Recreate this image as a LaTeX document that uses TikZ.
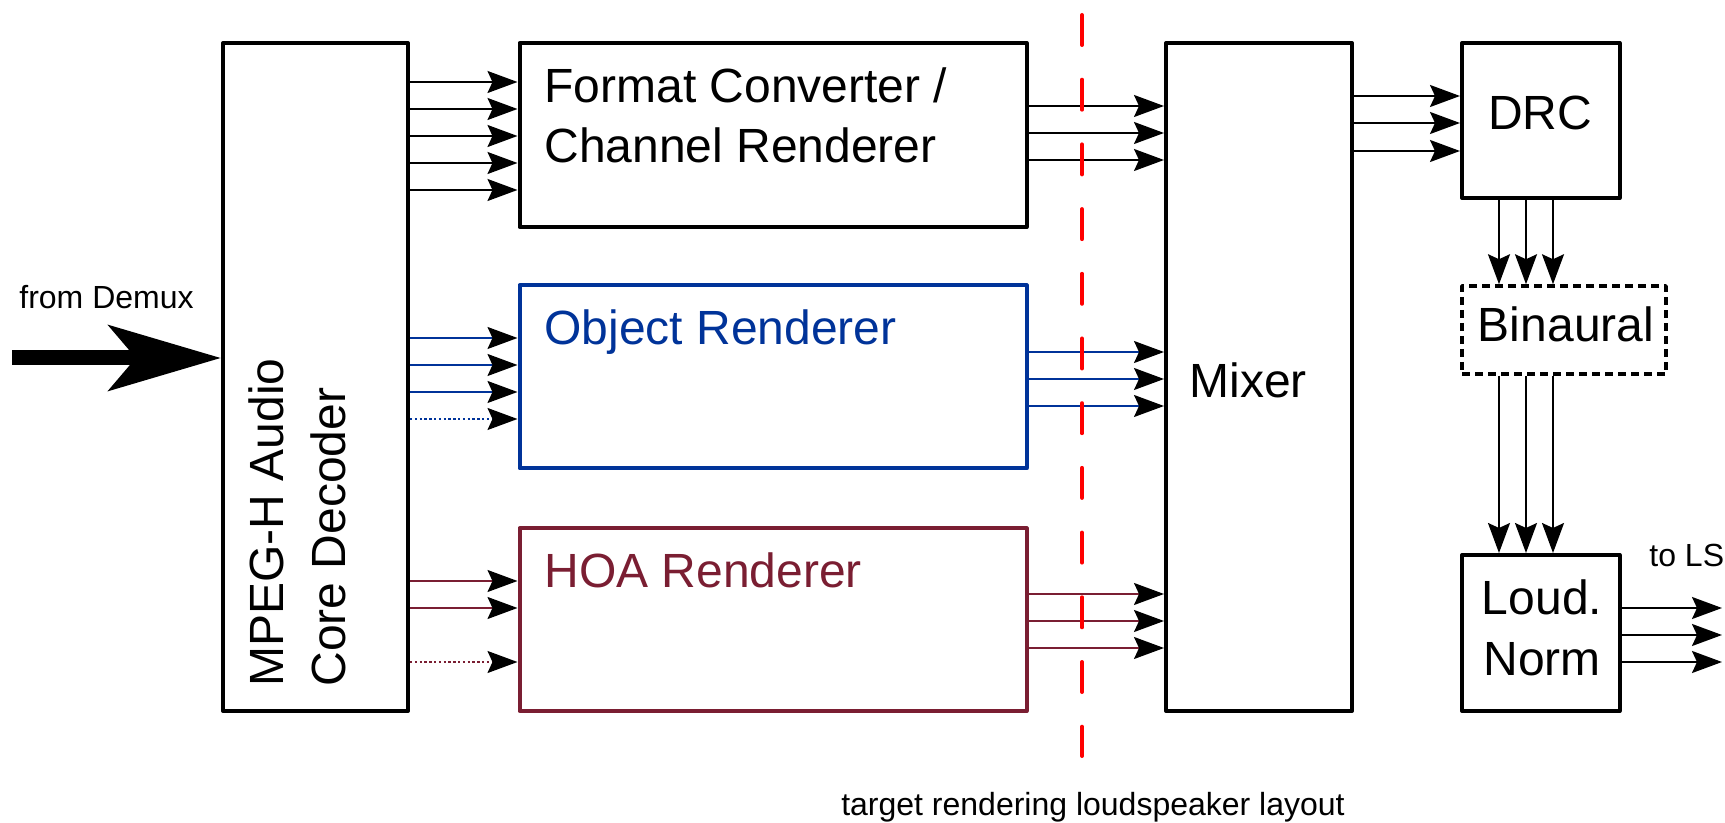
\documentclass[tikz,border=0pt]{standalone}
\usepackage{fontspec}
\setmainfont{Liberation Sans}
\usetikzlibrary{arrows.meta}
\definecolor{objblue}{RGB}{0,51,153}
\definecolor{hoared}{RGB}{122,30,50}
\definecolor{cutred}{RGB}{255,0,0}
\begin{document}
\begin{tikzpicture}[x=0.5pt,y=-0.5pt,
  box/.style={draw, line width=2pt, line join=round, inner sep=0pt, fill=white},
  lbl/.style={font=\fontsize{24}{29}\selectfont, inner sep=0pt},
  small/.style={font=\fontsize{16}{19}\selectfont, inner sep=0pt},
  tipk/.style={-{Stealth[length=15pt,width=11pt,inset=2.5pt,color=black]}},
  conn/.style={tipk, line width=1pt},
  bconn/.style={tipk, line width=0.9pt, draw=objblue},
  hconn/.style={tipk, line width=0.9pt, draw=hoared},
  dots/.style={dash pattern=on 1.2pt off 1.2pt}]
\useasboundingbox (0,0) rectangle (1725,823);

% boxes
\node[box, minimum width=92.5pt, minimum height=334pt] (core) at (315.5,377) {};
\node[box, minimum width=253.5pt, minimum height=92pt] (fc) at (773,135) {};
\node[box, draw=objblue, minimum width=253.5pt, minimum height=91.5pt] (obj) at (773,377) {};
\node[box, draw=hoared, minimum width=253.5pt, minimum height=91.25pt] (hoa) at (773,619.75) {};
\node[box, minimum width=93pt, minimum height=334pt] (mix) at (1259,377) {};
\node[box, minimum width=78.75pt, minimum height=77.5pt] (drc) at (1540.75,120.5) {};
\node[box, line width=1.75pt, dash pattern=on 4pt off 2.5pt, minimum width=102pt, minimum height=44pt] (bin) at (1564,330) {};
\node[box, minimum width=78.75pt, minimum height=78pt] (loud) at (1540.75,633) {};

% labels
\node[lbl, rotate=90, anchor=base west] (coreA) at (283,687) {MPEG-H Audio};
\node[lbl, rotate=90, anchor=base west] (coreB) at (345,687) {Core Decoder};
\node[lbl, anchor=base west] (fcA) at (544,103) {Format Converter /};
\node[lbl, anchor=base west] (fcB) at (544,163) {Channel Renderer};
\node[lbl, anchor=base west, text=objblue] (objA) at (544,345) {Object Renderer};
\node[lbl, anchor=base west, text=hoared] (hoaA) at (544,588) {HOA Renderer};
\node[lbl, anchor=base west] (mixA) at (1189,398) {Mixer};
\node[lbl, anchor=base] (drcA) at (1540,130) {DRC};
\node[lbl, anchor=base] (binA) at (1566,342) {Binaural};
\node[lbl, anchor=base] (loudA) at (1542,614) {Loud.};
\node[lbl, anchor=base] (loudB) at (1542,675) {Norm};
\node[small, anchor=base west] (demuxlbl) at (19,309) {from Demux};
\node[small, anchor=base west] (lslbl) at (1649,567) {to LS};
\node[small, anchor=base] (layoutlbl) at (1093,815) {target rendering loudspeaker layout};

% input
\coordinate (demux) at (12,358);
\draw[line width=7.5pt, -{Stealth[length=56pt,width=32.5pt,inset=13.5pt]}] (demux) -- (core.west |- demux);

% core -> renderers
\foreach \y in {82,109,136,163,190}
  \draw[conn] (core.east |- 0,\y) -- (fc.west |- 0,\y);
\foreach \y in {338,365,392}
  \draw[bconn] (core.east |- 0,\y) -- (obj.west |- 0,\y);
\draw[bconn, dots] (core.east |- 0,419) -- (obj.west |- 0,419);
\foreach \y in {581,608}
  \draw[hconn] (core.east |- 0,\y) -- (hoa.west |- 0,\y);
\draw[hconn, dots] (core.east |- 0,662) -- (hoa.west |- 0,662);

% renderers -> mixer
\foreach \y in {106,133,160}
  \draw[conn] (fc.east |- 0,\y) -- (mix.west |- 0,\y);
\foreach \y in {352,379,406}
  \draw[bconn] (obj.east |- 0,\y) -- (mix.west |- 0,\y);
\foreach \y in {594,621,648}
  \draw[hconn] (hoa.east |- 0,\y) -- (mix.west |- 0,\y);

% mixer -> DRC
\foreach \y in {96,123,151}
  \draw[conn] (mix.east |- 0,\y) -- (drc.west |- 0,\y);

% DRC -> Binaural -> Loud
\foreach \x in {1499,1526,1553} {
  \draw[conn] (drc.south -| \x,0) -- (bin.north -| \x,0);
  \draw[conn] (bin.south -| \x,0) -- (loud.north -| \x,0);
}

% outputs
\foreach \y [count=\i] in {608,635,662} {
  \coordinate (ls\i) at (1722,\y);
  \draw[conn] (loud.east |- ls\i) -- (ls\i);
}

% dashed red line
\coordinate (cuttop) at (1082,15);
\coordinate (cutbot) at (1082,756);
\draw[cutred, line width=2pt, line cap=round, dash pattern=on 15pt off 17.35pt] (cuttop) -- (cutbot);
\end{tikzpicture}
\end{document}
